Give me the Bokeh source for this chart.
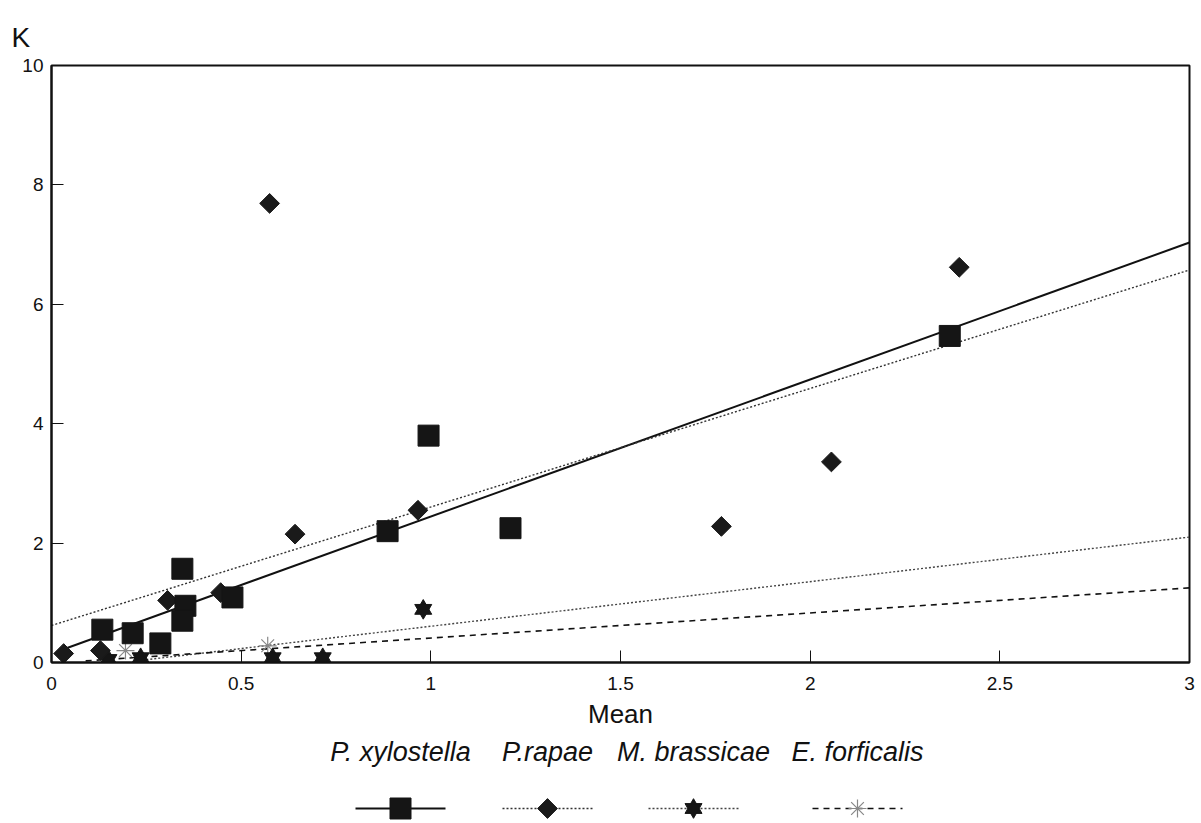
import math
from bokeh.plotting import figure
from bokeh.models import Range1d, FixedTicker
from bokeh.layouts import column
from bokeh.embed import file_html
from bokeh.resources import INLINE
from bokeh.core.properties import value

# ---------------- data ----------------
species = ["P. xylostella", "P.rapae", "M. brassicae", "E. forficalis"]

xylostella_mean = [0.134, 0.214, 0.287, 0.345, 0.353, 0.345, 0.477, 0.886, 0.994, 1.21, 2.368]
xylostella_k = [0.55, 0.49, 0.32, 1.57, 0.95, 0.70, 1.09, 2.20, 3.80, 2.25, 5.47]

rapae_mean = [0.032, 0.129, 0.306, 0.446, 0.575, 0.642, 0.966, 1.766, 2.056, 2.393]
rapae_k = [0.15, 0.20, 1.04, 1.17, 7.69, 2.15, 2.55, 2.28, 3.36, 6.62]

brassicae_mean = [0.15, 0.235, 0.583, 0.715, 0.98]
brassicae_k = [0.05, 0.08, 0.08, 0.08, 0.89]

forficalis_mean = [0.195, 0.57]
forficalis_k = [0.20, 0.28]

# regression lines (intercept, slope, x-extent)
fit_intercept = [0.15, 0.62, -0.14, -0.01]
fit_slope = [2.295, 1.985, 0.747, 0.42]
fit_x_start = [0.03, 0.0, 0.25, 0.09]
fit_x_end = [3.0, 3.0, 3.0, 3.0]

x_ticks = [0, 0.5, 1, 1.5, 2, 2.5, 3]
x_tick_labels = ["0", "0.5", "1", "1.5", "2", "2.5", "3"]
y_ticks = [0, 2, 4, 6, 8, 10]
y_tick_labels = ["0", "2", "4", "6", "8", "10"]

# ---------------- style ----------------
FONT = value("Liberation Sans")
INK = "#111111"
line_dash = ["solid", "2 2", "2 2", "6 5"]
line_width = [2, 1.4, 1.4, 1.6]
line_color = [INK, "#333333", "#444444", INK]

FR_L, FR_R = 51, 1189          # frame edges in page pixels
W = 1197
H1 = 736
p = figure(width=W, height=H1, x_range=Range1d(0, 3), y_range=Range1d(0, 10),
           output_backend="svg", toolbar_location=None,
           min_border_left=FR_L, min_border_right=W - FR_R, min_border_top=65, min_border_bottom=74,
           background_fill_color="white", border_fill_color="white")
p.grid.visible = False
p.outline_line_color = INK
p.outline_line_width = 2

# y-axis title "K" above the axis (top-left corner)
p.title.text = "K"
p.title.align = "left"
p.title.vertical_align = "top"
p.title.offset = -40
p.title.standoff = 22
p.title.text_font = "Liberation Sans"
p.title.text_font_size = "28px"
p.title.text_font_style = "normal"
p.title.text_color = INK

for ax in (p.xaxis[0], p.yaxis[0]):
    ax.axis_line_width = 2
    ax.axis_line_color = INK
    ax.major_tick_in = 12
    ax.major_tick_out = 0
    ax.minor_tick_in = 0
    ax.minor_tick_out = 0
    ax.major_tick_line_color = INK
    ax.major_label_text_font = "Liberation Sans"
    ax.major_label_text_font_size = "19px"
    ax.major_label_text_color = INK

p.xaxis.ticker = FixedTicker(ticks=x_ticks)
p.xaxis.major_label_overrides = {t: l for t, l in zip(x_ticks, x_tick_labels)}
p.yaxis.ticker = FixedTicker(ticks=y_ticks)
p.yaxis.major_label_overrides = {t: l for t, l in zip(y_ticks, y_tick_labels)}
p.xaxis.major_label_standoff = 14
p.yaxis.major_label_standoff = 8
p.xaxis.axis_label = "Mean"
p.xaxis.axis_label_text_font = "Liberation Sans"
p.xaxis.axis_label_text_font_size = "26px"
p.xaxis.axis_label_text_font_style = "normal"
p.xaxis.axis_label_text_color = INK
p.xaxis.axis_label_standoff = 6

# regression lines
for i in range(4):
    xs = [fit_x_start[i], fit_x_end[i]]
    ys = [fit_intercept[i] + fit_slope[i] * x for x in xs]
    p.line(xs, ys, line_color=line_color[i], line_width=line_width[i], line_dash=line_dash[i])

DIAMOND = dict(marker="square", angle=math.pi / 4, size=14, fill_color="#1a1a1a", line_color="#1a1a1a")
SQUARE = dict(marker="square", size=21, fill_color="#151515", line_color="#151515")
TRI = dict(size=17, fill_color="#151515", line_color="#151515")
AST = dict(marker="asterisk", size=18, line_color="#888888", line_width=1.2)

# points
p.scatter(forficalis_mean, forficalis_k, **AST)
p.scatter(brassicae_mean, brassicae_k, marker="triangle", **TRI)
p.scatter(brassicae_mean, brassicae_k, marker="inverted_triangle", **TRI)
p.scatter(rapae_mean, rapae_k, **DIAMOND)
p.scatter(xylostella_mean, xylostella_k, **SQUARE)

# ---------------- legend (separate strip below) ----------------
H2 = 84
leg = figure(width=W, height=H2, x_range=Range1d(FR_L, FR_R), y_range=Range1d(0, H2),
             output_backend="svg", toolbar_location=None,
             x_axis_location=None, y_axis_location=None,
             min_border_left=FR_L, min_border_right=W - FR_R, min_border_top=0, min_border_bottom=0,
             outline_line_color=None, background_fill_color="white", border_fill_color="white")
leg.grid.visible = False

col_x = [400, 547, 693, 857]   # page-pixel centres of the legend columns
text_y = H2 - 15
glyph_y = 12
half = 45

leg.text(x=col_x, y=[text_y] * 4, text=species, text_align="center", text_baseline="middle",
         text_font=FONT, text_font_style="italic", text_font_size="27px", text_color=INK)
for i in range(4):
    leg.line([col_x[i] - half, col_x[i] + half], [glyph_y, glyph_y], line_color=line_color[i],
             line_width=line_width[i], line_dash=line_dash[i])
leg.scatter([col_x[0]], [glyph_y], **SQUARE)
leg.scatter([col_x[1]], [glyph_y], **DIAMOND)
leg.scatter([col_x[2]], [glyph_y], marker="triangle", **TRI)
leg.scatter([col_x[2]], [glyph_y], marker="inverted_triangle", **TRI)
leg.scatter([col_x[3]], [glyph_y], **AST)

layout = column(p, leg, spacing=0)
open("out.html", "w").write(file_html(layout, INLINE))
